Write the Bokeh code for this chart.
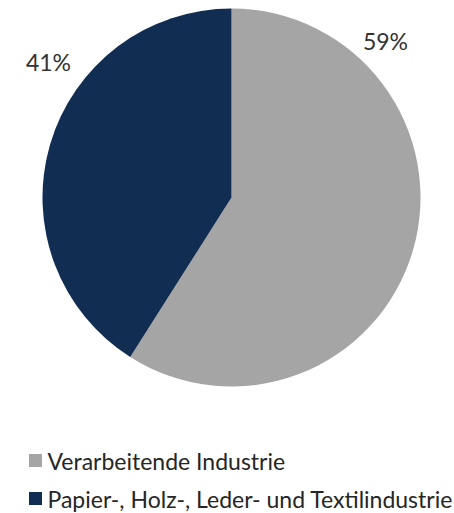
import numpy as np
from bokeh.plotting import figure
from bokeh.models import Range1d
from bokeh.core.properties import value
from bokeh.embed import file_html
from bokeh.resources import INLINE

categories = ["Verarbeitende Industrie", "Papier-, Holz-, Leder- und Textilindustrie"]
shares = [59, 41]
labels = ["59%", "41%"]
colors = ["#A5A5A5", "#122D52"]

W, H = 454, 513
p = figure(width=W, height=H, output_backend="svg", toolbar_location=None,
           x_range=Range1d(0, W), y_range=Range1d(0, H), min_border=0)
p.axis.visible = False
p.grid.visible = False
p.outline_line_color = None
p.background_fill_color = "white"

cx, cy, r = 231, H - 197, 189
fr = np.array(shares, dtype=float) / sum(shares)
ends = np.pi / 2 - 2 * np.pi * np.cumsum(fr)
starts = np.concatenate([[np.pi / 2], ends[:-1]])
for s, e, c in zip(starts, ends, colors):
    p.wedge(x=cx, y=cy, radius=r, start_angle=e, end_angle=s, fill_color=c, line_color=None)

# percentage labels
label_pos = [(385, H - 40), (48, H - 61)]
for (lx, ly), t in zip(label_pos, labels):
    p.text(x=[lx], y=[ly], text=[t], text_font=value("Lato"), text_font_size="23px",
           text_color="#333333", text_align="center", text_baseline="middle")

# legend
leg_y = [H - 460, H - 498]
for ly, c, name in zip(leg_y, colors, categories):
    p.scatter(x=[35], y=[ly], marker="square", size=13, fill_color=c, line_color=None)
    p.text(x=[47], y=[ly], text=[name], text_font=value("Lato"), text_font_size="23px",
           text_color="#262626", text_align="left", text_baseline="middle")

open("out.html", "w").write(file_html(p, INLINE))
